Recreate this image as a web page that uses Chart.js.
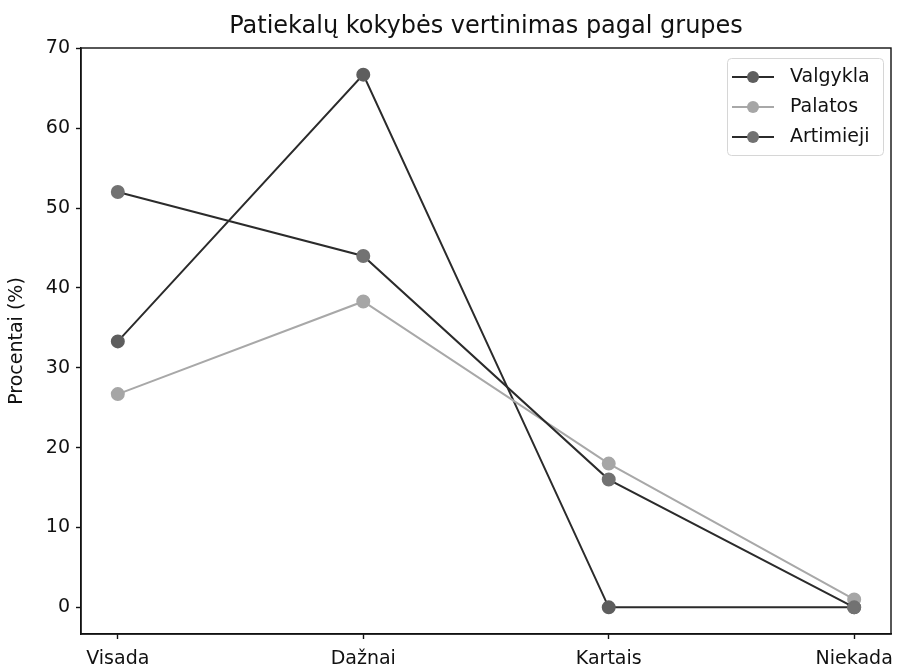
<!DOCTYPE html>
<html>
<head>
<meta charset="utf-8">
<script src="https://cdn.jsdelivr.net/npm/chart.js@4/dist/chart.umd.min.js"></script>
<style>
  html, body { margin: 0; padding: 0; background: #fff; }
  #wrap { position: relative; width: 899px; height: 671px; }
</style>
</head>
<body>
<div id="wrap"><canvas id="c" width="899" height="671"></canvas></div>
<script>
const categories = ["Visada", "Dažnai", "Kartais", "Niekada"];
const valgykla = [33.3, 66.7, 0, 0];
const palatos = [26.7, 38.3, 18.0, 1.0];
const artimieji = [52.0, 44.0, 16.0, 0];
const yTicks = [0, 10, 20, 30, 40, 50, 60, 70];
const seriesNames = ["Valgykla", "Palatos", "Artimieji"];

const FONT = "'DejaVu Sans', sans-serif";

function toPoints(arr) { return arr.map((v, i) => ({ x: i, y: v })); }

const frame = {
  id: 'frame',
  afterDatasetsDraw(chart) {
    const { ctx, chartArea: a } = chart;
    ctx.save();
    ctx.strokeStyle = '#111';
    ctx.lineWidth = 1.4;
    ctx.strokeRect(a.left, a.top, a.right - a.left, a.bottom - a.top);
    ctx.restore();
  }
};

const legendBox = {
  id: 'legendBox',
  afterDraw(chart) {
    const { ctx } = chart;
    const x0 = 727, y0 = 58, w = 156, h = 97;
    ctx.save();
    ctx.fillStyle = 'rgba(255,255,255,0.85)';
    ctx.strokeStyle = '#d6d6d6';
    ctx.lineWidth = 1;
    ctx.beginPath();
    ctx.roundRect(x0 + 0.5, y0 + 0.5, w, h, 4);
    ctx.fill();
    ctx.stroke();
    chart.data.datasets.forEach((ds, i) => {
      const y = 77 + i * 30;
      ctx.strokeStyle = ds.borderColor;
      ctx.lineWidth = ds.borderWidth;
      ctx.beginPath();
      ctx.moveTo(732, y);
      ctx.lineTo(774, y);
      ctx.stroke();
      ctx.fillStyle = ds.pointBackgroundColor;
      ctx.beginPath();
      ctx.arc(753, y, ds.pointRadius, 0, Math.PI * 2);
      ctx.fill();
      ctx.fillStyle = '#111';
      ctx.font = "19px " + FONT;
      ctx.textBaseline = 'middle';
      ctx.textAlign = 'left';
      ctx.fillText(ds.label, 790, y);
    });
    ctx.restore();
  }
};

new Chart(document.getElementById('c'), {
  type: 'line',
  data: {
    datasets: [
      { label: seriesNames[0], data: toPoints(valgykla), borderColor: '#2b2b2b', pointBackgroundColor: '#5e5e5e', pointBorderColor: '#5e5e5e', borderWidth: 2, pointRadius: 6, order: 3 },
      { label: seriesNames[1], data: toPoints(palatos), borderColor: '#a8a8a8', pointBackgroundColor: '#a6a6a6', pointBorderColor: '#a6a6a6', borderWidth: 2, pointRadius: 6, order: 2 },
      { label: seriesNames[2], data: toPoints(artimieji), borderColor: '#2b2b2b', pointBackgroundColor: '#727272', pointBorderColor: '#727272', borderWidth: 2, pointRadius: 6, order: 1 }
    ]
  },
  options: {
    responsive: false,
    animation: false,
    devicePixelRatio: 1,
    layout: { padding: { left: 0, right: 8, top: 0, bottom: 0 } },
    elements: { line: { tension: 0 }, point: { borderWidth: 0 } },
    plugins: {
      legend: { display: false },
      tooltip: { enabled: false },
      title: {
        display: true,
        fullSize: false,
        text: 'Patiekalų kokybės vertinimas pagal grupes',
        color: '#111',
        font: { family: FONT, size: 24, weight: 'normal' },
        padding: { top: 12, bottom: 7.2 }
      }
    },
    scales: {
      x: {
        type: 'linear',
        min: -0.15,
        max: 3.15,
        afterBuildTicks(scale) { scale.ticks = categories.map((c, i) => ({ value: i })); },
        afterFit(scale) { scale.height = 37; scale.paddingLeft = 0; scale.paddingRight = 0; },
        grid: { drawOnChartArea: false, drawTicks: true, tickLength: 5, color: '#111', tickWidth: 1.4 },
        border: { color: '#111', width: 1.4 },
        ticks: {
          autoSkip: false, maxRotation: 0, padding: 9,
          color: '#111', font: { family: FONT, size: 19 },
          callback: (v) => categories[v] ?? ''
        }
      },
      y: {
        type: 'linear',
        min: -3.335,
        max: 70.035,
        afterBuildTicks(scale) { scale.ticks = yTicks.map(v => ({ value: v })); },
        afterFit(scale) { scale.width = 81; scale.paddingTop = 0; scale.paddingBottom = 0; },
        grid: { drawOnChartArea: false, drawTicks: true, tickLength: 5, color: '#111', tickWidth: 1.4 },
        border: { color: '#111', width: 1.4 },
        ticks: {
          autoSkip: false, padding: 6,
          color: '#111', font: { family: FONT, size: 19 }
        },
        title: {
          display: true,
          text: 'Procentai (%)',
          color: '#111',
          font: { family: FONT, size: 19 },
          padding: { top: 6, bottom: 0 }
        }
      }
    }
  },
  plugins: [frame, legendBox]
});
</script>
</body>
</html>
